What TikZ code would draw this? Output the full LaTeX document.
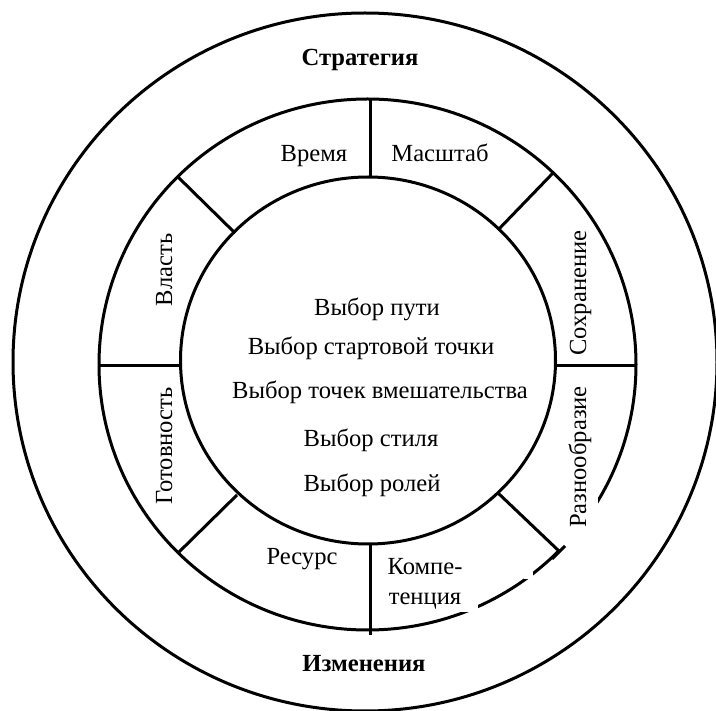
\documentclass[tikz,border=0pt]{standalone}
\usepackage{fontspec}
\setmainfont{Liberation Serif}
\begin{document}
\begin{tikzpicture}[x=1pt,y=-1pt,
  ring/.style={line width=3pt},
  divider/.style={line width=3pt},
  lbl/.style={inner sep=0pt,font=\fontsize{24.6}{30}\selectfont},
  side/.style={lbl,rotate=90,anchor=base},
  head/.style={lbl,anchor=base,font=\fontsize{24.6}{30}\selectfont\bfseries}]
\useasboundingbox (0,0) rectangle (716,711);
\fill[white] (0,0) rectangle (716,711);

% three rings
\draw[ring] (365,362) ellipse (352 and 349);
\draw[ring] (367.5,364.5) ellipse (268.5 and 265.5);
\draw[ring] (368,360.5) ellipse (187.5 and 183.5);

% white text boxes hiding parts of the middle ring
\fill[white] (558,375) rectangle (598,551);
\fill[white] (377,552) rectangle (478,612);
\fill[white] (524,572) rectangle (533,579);

% divider end points: inner ring -> middle ring
\coordinate (t1) at (370,177); \coordinate (t2) at (370,99);
\coordinate (tr1) at (498,230); \coordinate (tr2) at (553,173);
\coordinate (r1) at (555,366); \coordinate (r2) at (636,366);
\coordinate (br1) at (498,493); \coordinate (br2) at (560,552);
\coordinate (b1) at (370,544); \coordinate (b2) at (370,635);
\coordinate (bl1) at (237,495); \coordinate (bl2) at (178,553);
\coordinate (l1) at (181,366); \coordinate (l2) at (99,366);
\coordinate (tl1) at (235,233); \coordinate (tl2) at (178,177);
\coordinate (k1) at (552,559); \coordinate (k2) at (565,546);

\draw[divider] (t1) -- (t2);
\draw[divider] (tr1) -- (tr2);
\draw[divider] (r1) -- (r2);
\draw[divider] (br1) -- (br2);
\draw[divider] (k1) -- (k2);
\draw[divider] (b1) -- (b2);
\draw[divider] (bl1) -- (bl2);
\draw[divider] (l1) -- (l2);
\draw[divider] (tl1) -- (tl2);

% outer ring titles
\node[head] (strat) at (360,66) {Стратегия};
\node[head] (izm) at (364,672) {Изменения};

% middle ring sectors
\node[lbl,anchor=base] (vremya) at (314,162) {Время};
\node[lbl,anchor=base] (masshtab) at (440,162) {Масштаб};
\node[side] (vlast) at (172,270) {Власть};
\node[side] (gotov) at (172,446) {Готовность};
\node[side] (sokhr) at (586,293) {Сохранение};
\node[side] (raznoobr) at (586,457) {Разнообразие};
\node[lbl,anchor=base] (resurs) at (302,565) {Ресурс};
\node[lbl,anchor=base] (komp1) at (425,575) {Компе-};
\node[lbl,anchor=base] (komp2) at (425,605) {тенция};

% centre
\node[lbl,anchor=base] (c1) at (377,316) {Выбор пути};
\node[lbl,anchor=base] (c2) at (371,355) {Выбор стартовой точки};
\node[lbl,anchor=base] (c3) at (380,399) {Выбор точек вмешательства};
\node[lbl,anchor=base] (c4) at (371,447) {Выбор стиля};
\node[lbl,anchor=base] (c5) at (372,492) {Выбор ролей};
\end{tikzpicture}
\end{document}
